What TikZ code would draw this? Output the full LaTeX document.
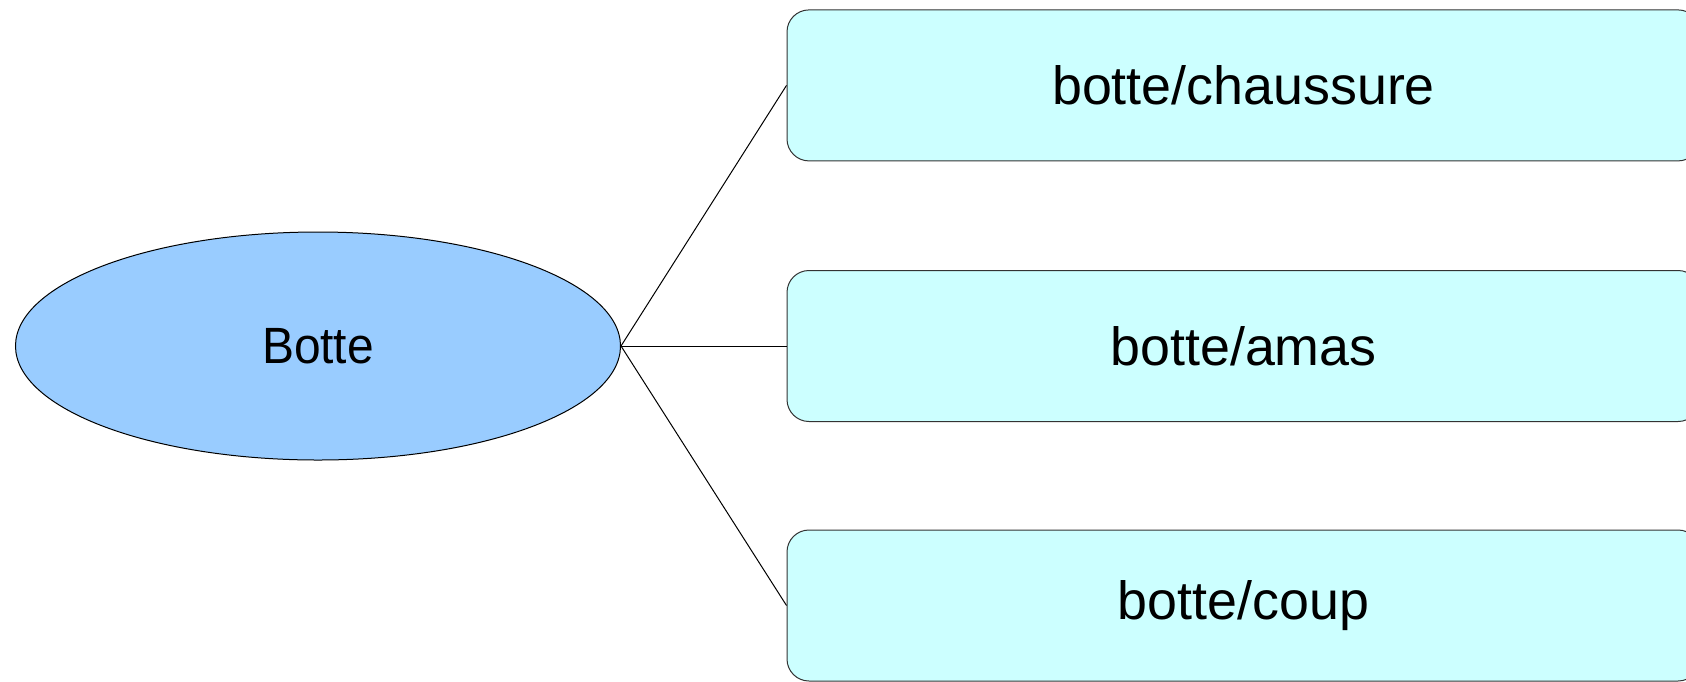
\documentclass[tikz,border=0pt]{standalone}
\usepackage{fontspec}
\setmainfont{Liberation Sans}
\usepackage{tikz}
\usepackage{graphicx}
\definecolor{Blt}{RGB}{153,204,255}
\definecolor{Cyn}{RGB}{204,255,255}
\usetikzlibrary{shapes.geometric}

\begin{document}
\begin{tikzpicture}[x=0.5pt,y=-0.5pt]
    \tikzset{mot/.style={ellipse,fill=Blt,draw=black,line width=0.5pt,
                    minimum width=302.5pt,minimum height=114pt,inner sep=0pt,
                    font=\fontsize{25.5}{30}\selectfont},
             sens/.style={rounded corners=11pt,fill=Cyn,draw=black!80,line width=0.5pt,
                    minimum width=456.5pt,minimum height=75.5pt,inner sep=0pt,
                    font=\fontsize{26.9}{32}\selectfont}}
    \useasboundingbox (0,0) rectangle (1686,681);
    \node [mot] (botte) at (318,346) {\scalebox{0.94}[1]{Botte}};
    \node [sens] (chaus) at (1243.5,85.4) {botte/chaussure};
    \node [sens] (amas) at (1243.5,346) {botte/amas};
    \node [sens] (coup) at (1243.5,605.5) {botte/coup};
    \draw [line width=0.5pt] (botte.east) -- (chaus.west);
    \draw [line width=0.5pt] (botte.east) -- (amas.west);
    \draw [line width=0.5pt] (botte.east) -- (coup.west);
\end{tikzpicture}
\end{document}
